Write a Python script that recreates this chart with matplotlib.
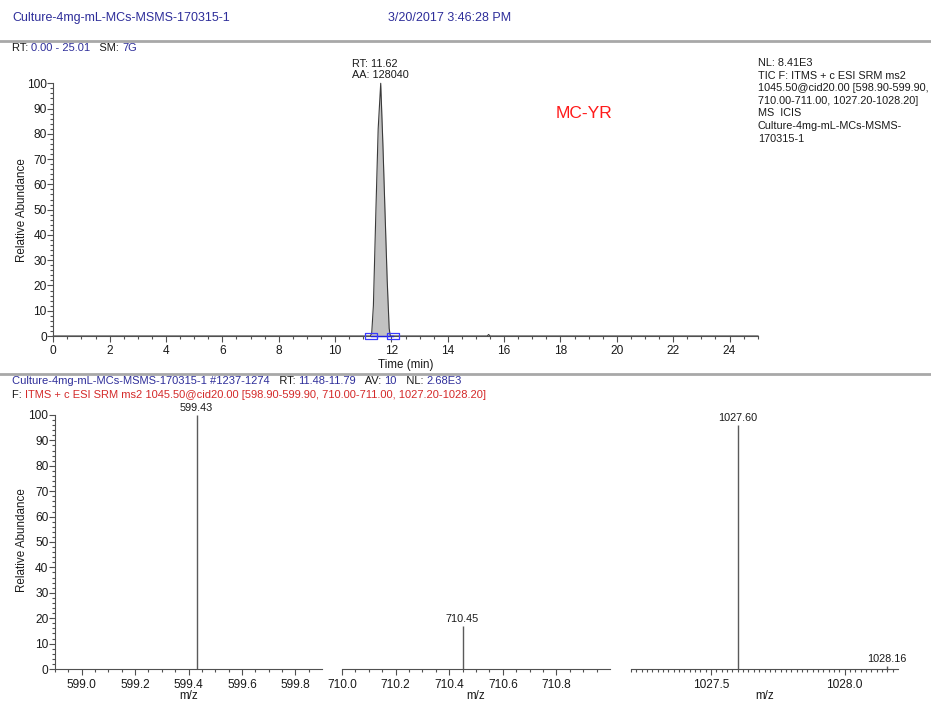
import matplotlib
matplotlib.use("Agg")
import numpy as np
import matplotlib.pyplot as plt
from matplotlib.ticker import MultipleLocator, FixedLocator, FormatStrFormatter

plt.rcParams['font.family'] = ['Liberation Sans', 'DejaVu Sans']

# ---- chromatogram (TIC, SRM) ----
rt_min = [0.00, 11.25, 11.30, 11.36, 11.45, 11.53, 11.62, 11.70, 11.77, 11.85,
          11.92, 11.96, 15.40, 15.45, 15.50, 25.01]
rel_abund = [0, 0, 1, 12, 50, 82, 100, 75, 50, 22, 3, 0, 0, 0.6, 0, 0]
peak_rt = 11.62
peak_area = 128040
baseline_rt = [11.28, 12.05]
rt_range = (0.00, 25.01)

# ---- averaged MS2 spectrum, three SRM windows ----
mz_windows = [(598.90, 599.90), (710.00, 711.00), (1027.20, 1028.20)]
mz_peaks = [[599.43], [710.45], [1027.60, 1028.16]]
mz_intens = [[100], [17], [96, 1]]

W, H = 931, 702
fig = plt.figure(figsize=(W / 100, H / 100), dpi=100)
fig.patch.set_facecolor('white')

BLUE = '#2e2e9a'
RED = '#d42a2a'
BLACK = '#1a1a1a'
AXC = '#505050'
FS = 7.8      # annotation / info text
TFS = 8.6     # tick labels
LFS = 8.4     # axis titles


def fx(x):
    return x / W


def fy(y):
    return 1 - y / H


renderer = fig.canvas.get_renderer()


def text_width(s, size):
    t1 = fig.text(0, 0, 'x' + s + 'x', fontsize=size)
    t2 = fig.text(0, 0, 'xx', fontsize=size)
    w = t1.get_window_extent(renderer).width - t2.get_window_extent(renderer).width
    t1.remove()
    t2.remove()
    return w


def colored_line(x, y, parts, size=FS):
    cur = x
    for s, c in parts:
        fig.text(fx(cur), fy(y), s, color=c, fontsize=size, ha='left', va='center')
        cur += text_width(s, size)


def inner_ticks(lo, hi, step):
    first = np.ceil(lo / step - 1e-6) * step
    vals = np.arange(first, hi - step * 0.25, step)
    return list(np.round(vals, 4))


def style_axis(ax, left=True):
    for side in ('top', 'right'):
        ax.spines[side].set_visible(False)
    ax.spines['bottom'].set_color(AXC)
    ax.spines['left'].set_color(AXC)
    ax.tick_params(which='both', direction='out', colors=AXC, labelcolor=BLACK,
                   labelsize=TFS, width=0.8)
    ax.tick_params(which='major', length=4.0)
    ax.tick_params(which='minor', length=2.3)
    ax.tick_params(axis='y', pad=0.8)
    ax.tick_params(axis='x', pad=2.5)
    if not left:
        ax.spines['left'].set_visible(False)
        ax.tick_params(axis='y', which='both', left=False, labelleft=False)
    ax.set_facecolor('none')


# ---- header ----
fig.text(fx(12), fy(18), 'Culture-4mg-mL-MCs-MSMS-170315-1', color=BLUE,
         fontsize=9, ha='left', va='center')
fig.text(fx(388), fy(18), '3/20/2017 3:46:28 PM', color=BLUE,
         fontsize=9, ha='left', va='center')
fig.add_artist(plt.Line2D([0, 1], [fy(41), fy(41)], color='#a8a8a8', lw=2.0))
colored_line(12, 48, [('RT: ', BLACK), ('%.2f - %.2f' % rt_range, BLUE),
                      ('   SM: ', BLACK), ('7G', BLUE)], size=8.0)

# ---- chromatogram panel ----
ax = fig.add_axes([fx(53.3), fy(336), fx(758 - 53.3), (336 - 83.3) / H])
style_axis(ax)
ax.fill_between(rt_min, rel_abund, 0, color='#c2c2c2', lw=0, clip_on=False)
ax.plot(rt_min, rel_abund, color='#3a3a3a', lw=0.8, clip_on=False)
ax.plot(baseline_rt, [0, 0], color='#2020e0', lw=1.0, clip_on=False, zorder=4)
box = [(-1, -0.5), (1, -0.5), (1, 0.5), (-1, 0.5), (-1, -0.5)]
ax.plot(baseline_rt, [0, 0], ls='none', marker=box, markersize=8,
        markerfacecolor='none', markeredgecolor='#3a3aff', markeredgewidth=0.9,
        clip_on=False, zorder=5)
ax.set_xlim(*rt_range)
ax.set_ylim(0, 100)
ax.xaxis.set_major_locator(MultipleLocator(2))
ax.xaxis.set_minor_locator(MultipleLocator(0.5))
ax.yaxis.set_major_locator(MultipleLocator(10))
ax.yaxis.set_minor_locator(MultipleLocator(2))
ax.annotate('RT: %.2f\nAA: %d' % (peak_rt, peak_area), xy=(peak_rt, 100),
            xytext=(-20.5, 2.5), textcoords='offset points', ha='left',
            va='bottom', fontsize=FS, color=BLACK, linespacing=1.1)
fig.text(fx(406), fy(365), 'Time (min)', fontsize=LFS, color=BLACK,
         ha='center', va='center')
fig.text(fx(22), fy(210), 'Relative Abundance', fontsize=LFS, color=BLACK,
         rotation=90, ha='center', va='center')
fig.text(fx(556), fy(114), 'MC-YR', fontsize=12.5, color='#ff1a1a',
         ha='left', va='center')

info_lines = ['NL: 8.41E3',
              'TIC F: ITMS + c ESI SRM ms2',
              '1045.50@cid20.00 [598.90-599.90,',
              '710.00-711.00, 1027.20-1028.20]',
              'MS  ICIS',
              'Culture-4mg-mL-MCs-MSMS-',
              '170315-1']
for i, line in enumerate(info_lines):
    fig.text(fx(758), fy(63 + i * 12.6), line, fontsize=FS, color=BLACK,
             ha='left', va='center')

# ---- spectrum header ----
fig.add_artist(plt.Line2D([0, 1], [fy(374), fy(374)], color='#a8a8a8', lw=2.0))
colored_line(12, 381, [('Culture-4mg-mL-MCs-MSMS-170315-1 #1237-1274', BLUE),
                       ('   RT: ', BLACK), ('11.48-11.79', BLUE),
                       ('   AV: ', BLACK), ('10', BLUE),
                       ('   NL: ', BLACK), ('2.68E3', BLUE)], size=8.0)
colored_line(12, 395, [('F: ', BLACK),
                       ('ITMS + c ESI SRM ms2 1045.50@cid20.00 '
                        '[598.90-599.90, 710.00-711.00, 1027.20-1028.20]', RED)],
             size=8.0)

# ---- spectrum panels ----
panel_px = [(55, 322), (342, 610), (631, 898)]
major_step = [0.2, 0.2, 0.5]
minor_step = [0.05, 0.05, 0.02]
for k, (x0, x1) in enumerate(panel_px):
    a = fig.add_axes([fx(x0), fy(669), fx(x1 - x0), (669 - 415) / H])
    style_axis(a, left=(k == 0))
    lo, hi = mz_windows[k]
    a.set_xlim(lo, hi)
    a.set_ylim(0, 100)
    a.vlines(mz_peaks[k], 0, mz_intens[k], color='#5a5a5a', lw=1.0)
    for m, v in zip(mz_peaks[k], mz_intens[k]):
        a.annotate('%.2f' % m, xy=(m, v), xytext=(0, 1.5),
                   textcoords='offset points', ha='center', va='bottom',
                   fontsize=FS, color=BLACK, annotation_clip=False)
    a.xaxis.set_major_locator(FixedLocator(inner_ticks(lo, hi, major_step[k])))
    a.xaxis.set_minor_locator(FixedLocator(inner_ticks(lo, hi, minor_step[k])))
    a.xaxis.set_major_formatter(FormatStrFormatter('%.1f'))
    a.tick_params(axis='x', pad=3.5)
    if k == 0:
        a.yaxis.set_major_locator(MultipleLocator(10))
        a.yaxis.set_minor_locator(MultipleLocator(2))
    fig.text(fx((x0 + x1) / 2), fy(696), 'm/z', fontsize=LFS, color=BLACK,
             ha='center', va='center')

fig.text(fx(22), fy(540), 'Relative Abundance', fontsize=LFS, color=BLACK,
         rotation=90, ha='center', va='center')

fig.savefig('out.png', dpi=100, facecolor='white')
